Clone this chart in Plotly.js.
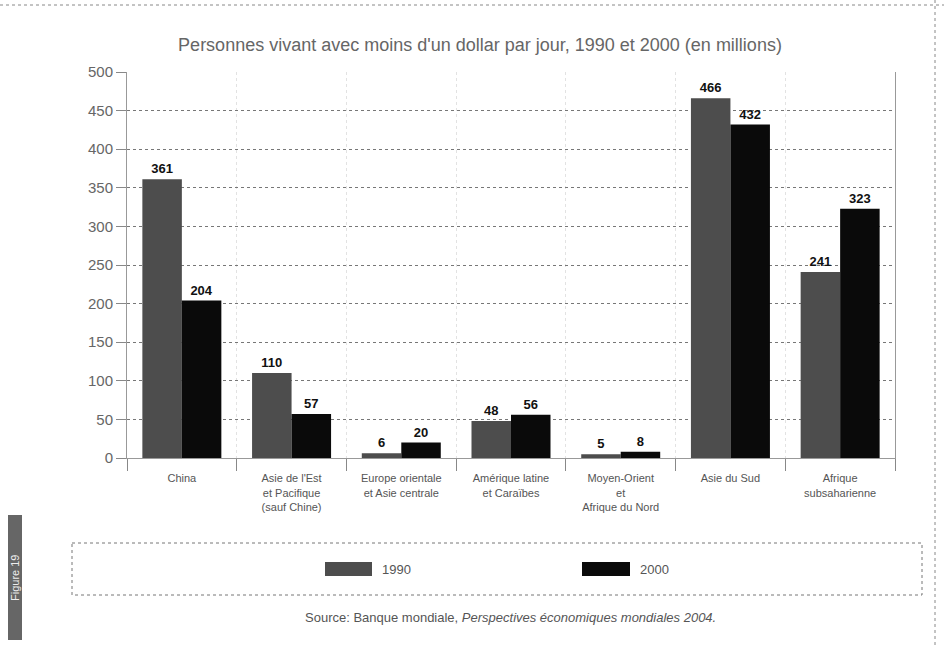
<!DOCTYPE html>
<html>
<head>
<meta charset="utf-8">
<script src="https://cdn.plot.ly/plotly-3.0.1.min.js"></script>
<style>html,body{margin:0;padding:0;background:#fff;}#chart{width:944px;height:645px;}</style>
</head>
<body>
<div id="chart"></div>
<script>
var categories = ["China", "Asie de l'Est<br>et Pacifique<br>(sauf Chine)", "Europe orientale<br>et Asie centrale", "Amérique latine<br>et Caraïbes", "Moyen-Orient<br>et<br>Afrique du Nord", "Asie du Sud", "Afrique<br>subsaharienne"];
var values1990 = [361, 110, 6, 48, 5, 466, 241];
var values2000 = [204, 57, 20, 56, 8, 432, 323];
var seriesNames = ["1990", "2000"];
var yTicks = [0, 50, 100, 150, 200, 250, 300, 350, 400, 450, 500];

var fontFam = "Arial, 'Liberation Sans', sans-serif";
var c1990 = "#4d4d4d", c2000 = "#0a0a0a";

var traces = [
  {type: "bar", name: seriesNames[0], x: categories, y: values1990, marker: {color: c1990},
   text: values1990.map(String), textposition: "outside", cliponaxis: false,
   textfont: {family: fontFam, size: 13, color: "#111", weight: "bold"}},
  {type: "bar", name: seriesNames[1], x: categories, y: values2000, marker: {color: c2000},
   text: values2000.map(String), textposition: "outside", cliponaxis: false,
   textfont: {family: fontFam, size: 13, color: "#111", weight: "bold"}}
];

function px(x){return (x-127)/768;}
function py(y){return (458-y)/386;}

var shapes = [
  {type:"rect", xref:"paper", yref:"paper", x0:px(72), x1:px(922), y0:py(543), y1:py(595), line:{color:"#777", width:1, dash:"dot"}},
  {type:"rect", xref:"paper", yref:"paper", x0:px(325), x1:px(372), y0:py(562), y1:py(576), fillcolor:c1990, line:{width:0}},
  {type:"rect", xref:"paper", yref:"paper", x0:px(582), x1:px(630), y0:py(562), y1:py(576), fillcolor:c2000, line:{width:0}},
  {type:"rect", xref:"paper", yref:"paper", x0:px(8), x1:px(22), y0:py(515), y1:py(640), fillcolor:"#666", line:{width:0}},
  {type:"line", xref:"paper", yref:"paper", x0:px(0), x1:px(944), y0:py(5), y1:py(5), line:{color:"#888", width:1, dash:"dot"}},
  {type:"line", xref:"paper", yref:"paper", x0:px(935), x1:px(935), y0:py(0), y1:py(645), line:{color:"#888", width:1, dash:"dot"}}
];

var annotations = [
  {xref:"paper", yref:"paper", x:px(380), y:py(569), xanchor:"left", yanchor:"middle", text:seriesNames[0], showarrow:false, font:{family:fontFam, size:13, color:"#555"}},
  {xref:"paper", yref:"paper", x:px(638), y:py(569), xanchor:"left", yanchor:"middle", text:seriesNames[1], showarrow:false, font:{family:fontFam, size:13, color:"#555"}},
  {xref:"paper", yref:"paper", x:px(510), y:py(617), xanchor:"center", yanchor:"middle", showarrow:false,
   text:"Source: Banque mondiale, <i>Perspectives économiques mondiales 2004.</i>", font:{family:fontFam, size:13, color:"#555"}},
  {xref:"paper", yref:"paper", x:px(15), y:py(578), xanchor:"center", yanchor:"middle", showarrow:false, textangle:-90,
   text:"Figure 19", font:{family:fontFam, size:11, color:"#eee"}}
];

var layout = {
  width: 944, height: 645,
  margin: {l:127, r:49, t:72, b:187},
  paper_bgcolor: "#fff", plot_bgcolor: "#fff",
  title: {text: "Personnes vivant avec moins d'un dollar par jour, 1990 et 2000 (en millions)", x: px(480), xref:"paper", xanchor:"center", y: 1-45/645, yanchor:"middle",
          font: {family: fontFam, size: 18, color: "#666"}},
  barmode: "group", bargap: 0.28, bargroupgap: 0,
  showlegend: false,
  xaxis: {type:"category", tickson:"boundaries", ticks:"outside", ticklen:12, tickcolor:"#888", ticklabelstandoff: 10,
          showline:true, linecolor:"#999", mirror:false, showgrid:true, gridcolor:"#e2e2e2", griddash:"dot",
          tickfont:{family:fontFam, size:11, color:"#555"}, automargin:false},
  yaxis: {range:[0,500], tickvals:yTicks, ticks:"outside", ticklen:10, tickcolor:"#888",
          showline:true, linecolor:"#999", mirror:true, showgrid:true, gridcolor:"#777", griddash:"dot", gridwidth:1,
          tickfont:{family:fontFam, size:15, color:"#666"}, zeroline:false, automargin:false},
  shapes: shapes, annotations: annotations
};

Plotly.newPlot("chart", traces, layout, {displayModeBar:false, staticPlot:true});
</script>
</body>
</html>
